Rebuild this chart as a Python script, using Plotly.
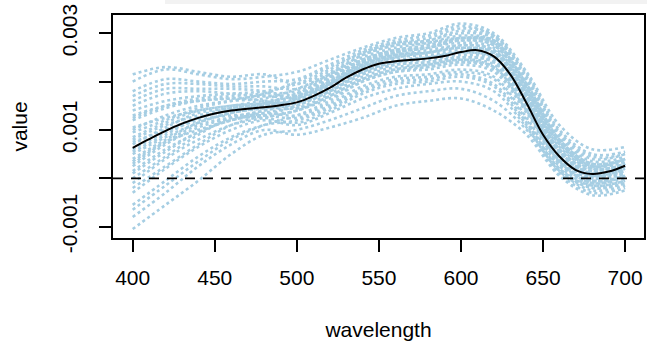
import plotly.graph_objects as go

# wavelength grids
boot_wl = [400, 420, 440, 460, 480, 500, 520, 540, 560, 580, 600, 620, 640, 660, 680, 700]
fit_wl = list(range(400, 701, 10))

# fitted curve (units of 1e-4)
fit_values = [6.3, 8.1, 9.8, 11.3, 12.5, 13.4, 14.0, 14.4, 14.7, 15.1, 15.7, 17.0, 18.7,
              20.8, 22.5, 23.7, 24.2, 24.5, 24.8, 25.3, 26.1, 26.5, 25.2, 21.5, 15.5,
              9.0, 4.5, 1.7, 0.9, 1.4, 2.6]

# bootstrap curves (units of 1e-4)
boot_curves = [
    [-10.5, -5.5, -0.5, 5.0, 9.0, 10.0, 12.0, 14.5, 17.0, 18.0, 18.5, 16.0, 10.0, 1.0, -3.0, -2.0],
    [-8.0, -3.0, 2.5, 7.0, 10.0, 9.0, 10.5, 12.5, 15.0, 16.0, 16.5, 14.0, 9.0, 0.5, -3.5, -2.5],
    [-5.5, -0.5, 4.5, 8.5, 11.0, 12.0, 14.5, 18.0, 20.0, 20.5, 21.5, 19.5, 11.5, 2.0, -2.0, -1.0],
    [-3.0, 2.0, 6.5, 10.0, 12.0, 11.0, 13.5, 16.5, 18.5, 19.5, 20.0, 18.0, 10.5, 1.5, -2.5, -1.5],
    [-1.0, 4.0, 8.0, 11.0, 12.5, 14.0, 16.5, 20.0, 22.0, 22.5, 23.5, 22.0, 13.5, 3.0, -1.0, 0.0],
    [1.0, 5.5, 9.5, 12.0, 13.5, 13.0, 15.5, 19.0, 21.0, 21.5, 22.5, 21.0, 12.5, 2.5, -1.5, -0.5],
    [2.5, 7.0, 10.5, 12.5, 14.0, 15.5, 18.5, 22.0, 24.0, 24.5, 25.5, 24.5, 15.5, 4.5, 0.0, 1.5],
    [4.0, 8.0, 11.5, 13.5, 14.5, 14.5, 17.5, 21.0, 23.0, 23.5, 24.5, 23.5, 14.5, 3.5, -0.5, 0.5],
    [5.5, 9.0, 12.5, 14.0, 15.0, 16.0, 19.0, 23.0, 25.0, 25.5, 26.5, 25.5, 16.5, 5.0, 0.5, 2.0],
    [7.0, 10.5, 13.5, 14.5, 15.5, 17.5, 21.0, 24.5, 26.5, 27.0, 28.5, 27.5, 18.5, 7.0, 2.0, 3.0],
    [8.5, 11.5, 14.0, 15.0, 16.0, 17.0, 20.0, 23.5, 25.5, 26.5, 27.5, 26.5, 17.5, 6.0, 1.5, 2.5],
    [10.0, 13.0, 15.0, 16.0, 16.5, 18.5, 21.5, 25.0, 27.0, 28.0, 29.5, 28.5, 19.5, 8.0, 3.0, 4.0],
    [12.0, 14.5, 16.0, 16.5, 16.0, 14.5, 17.0, 20.5, 22.5, 23.0, 24.0, 22.5, 14.0, 3.5, -0.5, 0.5],
    [14.0, 16.0, 17.0, 17.5, 18.0, 19.5, 22.5, 26.0, 28.0, 28.5, 30.5, 29.0, 20.5, 9.0, 4.0, 5.0],
    [16.0, 18.5, 18.5, 18.5, 18.0, 16.5, 19.5, 23.5, 25.5, 26.0, 27.0, 26.0, 17.0, 5.5, 1.0, 2.5],
    [18.0, 20.5, 20.0, 19.5, 20.0, 20.5, 23.5, 26.5, 28.5, 29.5, 31.5, 29.5, 21.5, 10.0, 5.0, 5.5],
    [20.0, 22.5, 21.5, 20.5, 21.0, 22.0, 24.5, 27.0, 29.0, 30.0, 32.0, 30.0, 22.0, 11.0, 6.0, 6.5],
    [21.5, 23.0, 22.0, 21.0, 21.5, 19.5, 22.0, 25.5, 27.5, 28.0, 29.0, 28.0, 19.0, 7.5, 2.5, 3.5],
    [0.0, 4.5, 9.0, 12.5, 14.0, 16.5, 19.5, 23.0, 25.0, 26.0, 27.0, 26.0, 17.0, 5.5, 1.0, 2.5],
    [6.0, 9.5, 12.0, 13.0, 13.0, 12.5, 15.0, 18.5, 20.5, 21.0, 22.0, 20.5, 12.0, 2.0, -1.5, -0.5],
    [9.5, 12.0, 14.5, 16.0, 17.5, 20.0, 23.0, 26.0, 28.0, 29.0, 31.0, 29.5, 21.0, 9.5, 4.5, 5.0],
    [-2.0, 2.5, 7.0, 11.0, 13.0, 15.0, 18.0, 21.5, 23.5, 24.0, 25.0, 24.0, 15.0, 4.0, 0.0, 1.0],
    [3.0, 7.5, 11.0, 12.5, 12.5, 11.5, 14.0, 17.5, 19.5, 20.0, 21.0, 19.0, 11.0, 1.5, -2.0, -1.0],
    [12.5, 15.0, 16.5, 17.0, 17.5, 18.0, 21.0, 24.5, 26.5, 27.5, 28.5, 27.5, 18.5, 7.0, 2.5, 3.5],
    [3.5, 7.5, 10.0, 12.0, 13.5, 15.0, 18.0, 22.0, 24.0, 25.0, 26.0, 25.0, 16.0, 4.5, 0.5, 1.5],
    [7.5, 10.0, 12.5, 14.0, 15.0, 16.5, 19.5, 23.5, 25.5, 26.0, 27.5, 26.5, 17.5, 6.0, 1.5, 3.0],
    [10.5, 12.5, 14.0, 15.0, 15.5, 16.0, 19.0, 22.5, 24.5, 25.0, 26.0, 25.0, 16.0, 4.5, 0.5, 2.0],
    [13.0, 15.0, 16.0, 16.5, 17.0, 17.5, 20.5, 24.0, 26.0, 27.0, 28.0, 27.0, 18.0, 6.5, 2.0, 3.0],
    [15.0, 17.5, 18.0, 17.5, 17.0, 17.0, 20.0, 24.0, 26.0, 27.0, 29.0, 28.0, 19.5, 8.0, 3.0, 4.0],
    [-6.5, -1.5, 3.5, 8.0, 11.0, 13.0, 16.0, 20.0, 22.0, 23.0, 24.0, 23.0, 14.0, 3.5, -1.0, 0.5],
    [5.0, 8.5, 11.5, 13.5, 14.5, 15.5, 18.0, 21.5, 23.5, 24.0, 25.0, 24.0, 15.0, 4.0, 0.0, 1.0],
    [17.0, 19.5, 19.5, 19.0, 19.0, 18.5, 21.5, 25.5, 27.5, 28.5, 30.0, 29.0, 20.0, 8.5, 3.5, 4.5],
    [1.5, 6.0, 9.5, 12.0, 13.0, 14.0, 17.0, 20.5, 22.5, 23.5, 24.5, 23.0, 14.0, 3.0, -0.5, 0.5],
    [8.0, 11.0, 13.0, 14.5, 15.5, 17.0, 20.5, 24.5, 26.5, 27.5, 29.0, 28.5, 19.0, 7.5, 2.5, 4.0],
]
UNIT = 1e-4

y_tickvals = [-0.001, 0, 0.001, 0.002, 0.003]
y_ticktext = ["-0.001", "", "0.001", "", "0.003"]
x_tickvals = [400, 450, 500, 550, 600, 650, 700]

BLUE = "#a6cee3"
FONT = "Liberation Sans, Arial, sans-serif"

fig = go.Figure()
for c in boot_curves:
    fig.add_trace(go.Scatter(
        x=boot_wl, y=[v * UNIT for v in c], mode="lines",
        line=dict(color=BLUE, width=2.6, dash="3px,3px", shape="spline", smoothing=1.0),
        hoverinfo="skip", showlegend=False))

fig.add_trace(go.Scatter(
    x=fit_wl, y=[v * UNIT for v in fit_values], mode="lines",
    line=dict(color="black", width=2, shape="spline", smoothing=1.0),
    showlegend=False))

fig.add_shape(type="line", xref="paper", yref="y", x0=0, x1=1, y0=0, y1=0,
              line=dict(color="black", width=1.8, dash="10px,8px"), layer="above")
fig.add_shape(type="rect", xref="paper", yref="paper", x0=0.098, x1=1.01, y0=1.049, y1=1.07,
              fillcolor="#f2f2f2", line=dict(width=0), layer="below")

axis_common = dict(showgrid=False, zeroline=False, showline=True, linecolor="black",
                   linewidth=1.5, mirror=True, ticks="outside", ticklen=12, tickwidth=1.5,
                   tickcolor="black", tickfont=dict(family=FONT, size=21, color="black"))

fig.update_xaxes(range=[388, 711.5], tickvals=x_tickvals, ticklabelstandoff=8,
                 title=dict(text="wavelength", font=dict(family=FONT, size=21, color="black"),
                            standoff=34),
                 **axis_common)
fig.update_yaxes(range=[-0.001235, 0.003377], tickvals=y_tickvals, ticktext=y_ticktext,
                 tickangle=-90, ticklabelstandoff=14,
                 title=dict(text="value", font=dict(family=FONT, size=21, color="black"),
                            standoff=24),
                 **axis_common)

fig.update_layout(width=647, height=346, margin=dict(l=113, r=1, t=15, b=108),
                  plot_bgcolor="white", paper_bgcolor="white",
                  font=dict(family=FONT, size=21, color="black"))

fig.write_html("out.html")
